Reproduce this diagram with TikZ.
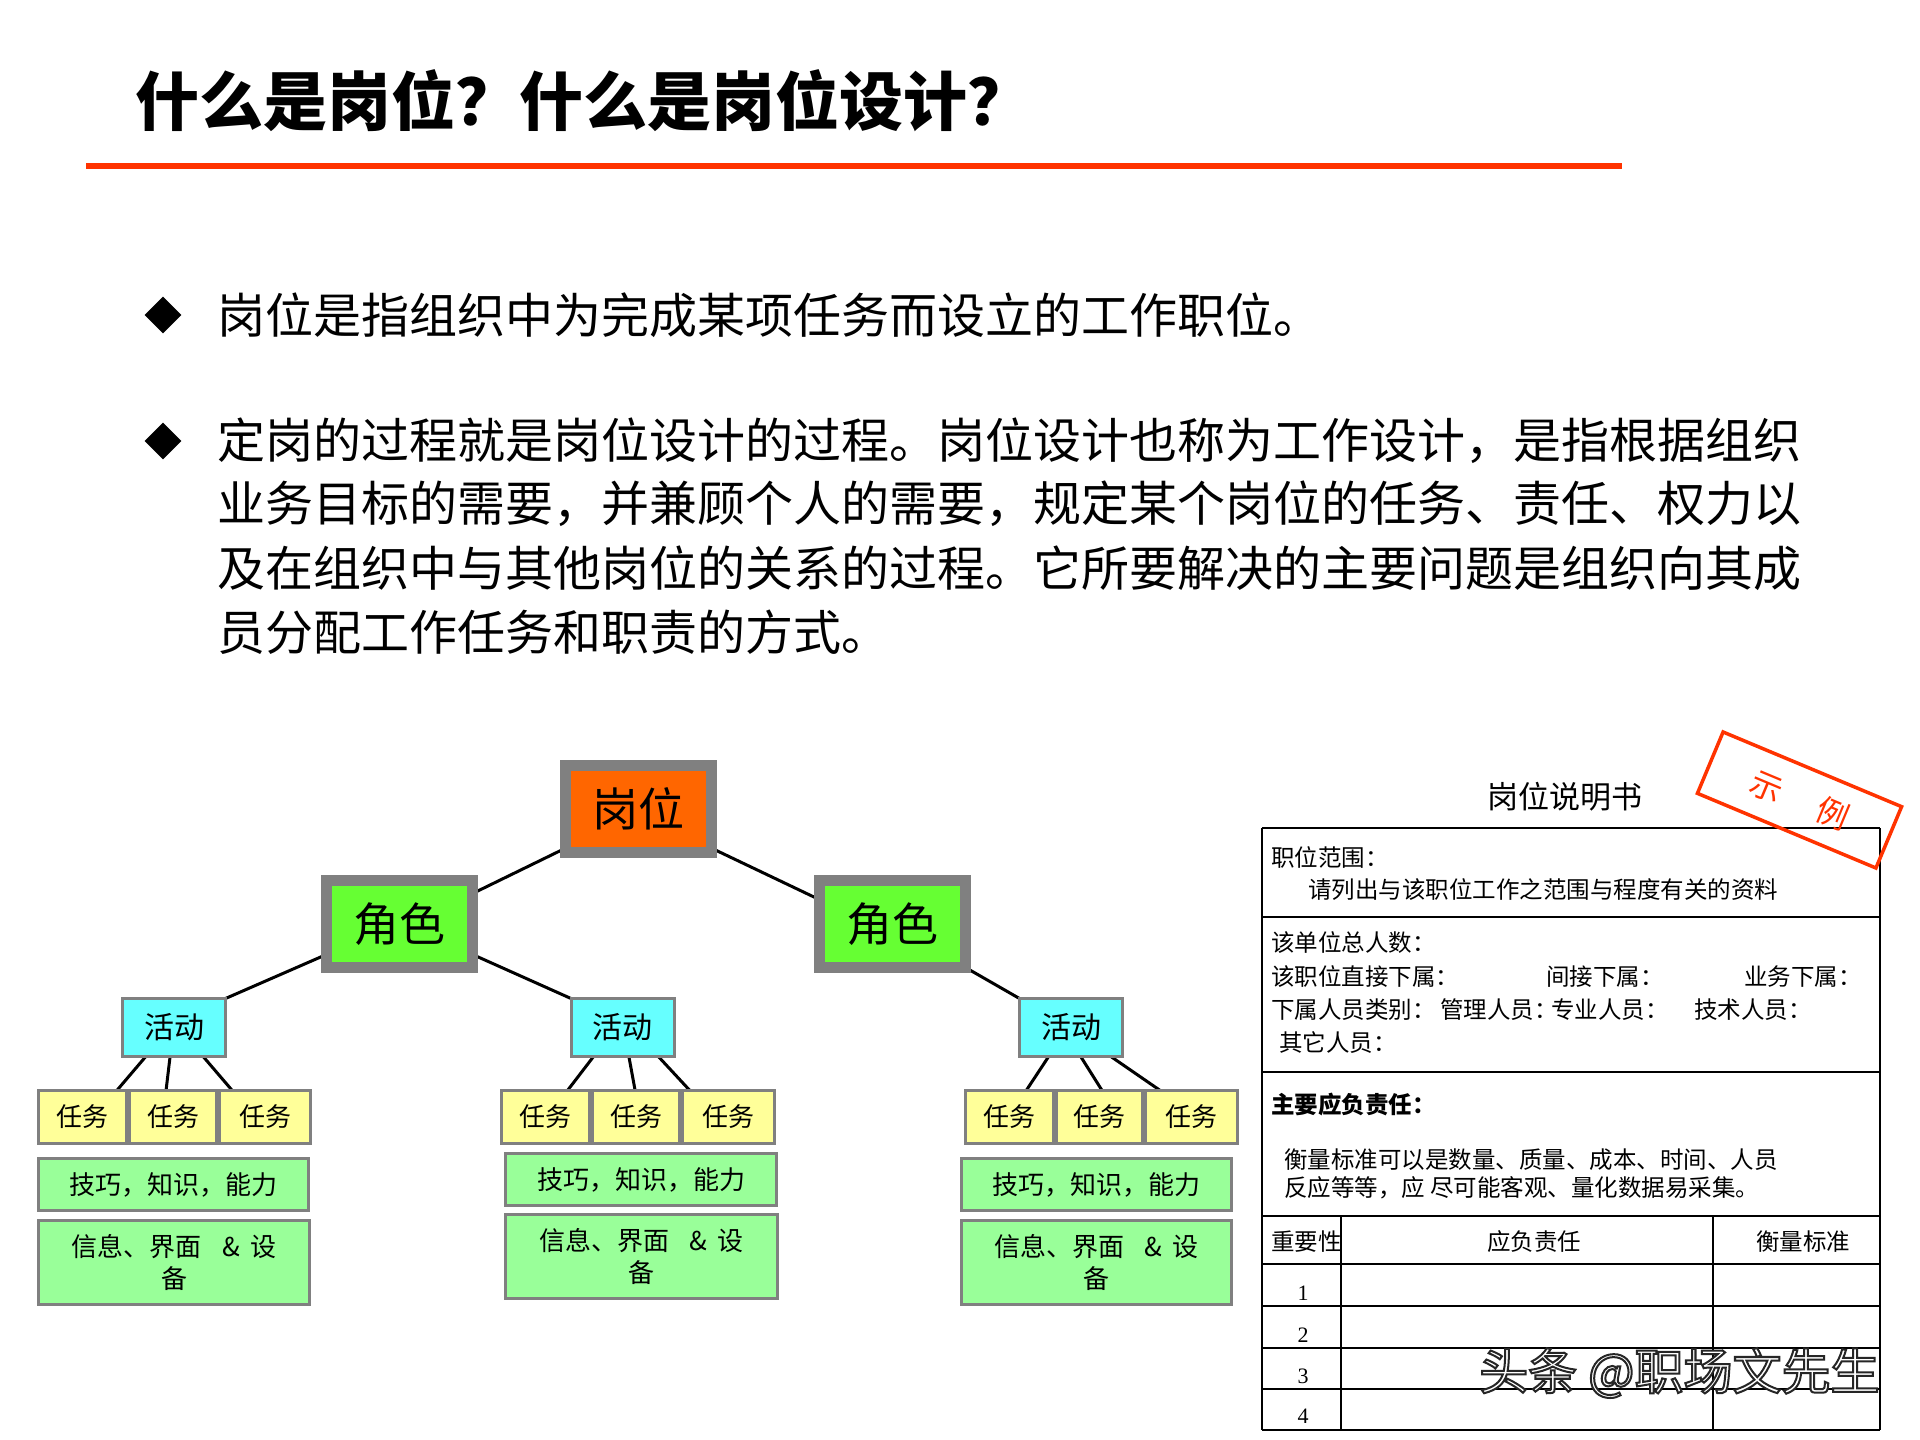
\documentclass[tikz,border=0pt]{standalone}
\usepackage{fontspec}
\setmainfont{Noto Sans CJK SC}
\newfontfamily\serifnum{Liberation Serif}
\usetikzlibrary{shapes.geometric,calc}
\pgfdeclarelayer{back}
\pgfdeclarelayer{bg}
\pgfsetlayers{back,bg,main}
\definecolor{stampred}{HTML}{FF3300}
\definecolor{boxgray}{HTML}{808080}
\definecolor{orangebox}{HTML}{FF6600}
\definecolor{limebox}{HTML}{66FF33}
\definecolor{cyanbox}{HTML}{66FFFF}
\definecolor{yellowbox}{HTML}{FFFF99}
\definecolor{lgreen}{HTML}{99FF99}
\newcommand\fsz[2]{\fontsize{#1}{#2}\selectfont}
\begin{document}
\begin{tikzpicture}[x=1pt,y=-1pt,
  bigbox/.style={draw=boxgray, line width=11pt, minimum width=146pt, minimum height=87pt, inner sep=0pt, outer sep=0pt, font=\fsz{46}{55}},
  smallbox/.style={draw=boxgray, line width=3pt, inner sep=0pt, outer sep=0pt},
  act/.style={smallbox, fill=cyanbox, minimum width=103pt, minimum height=58pt, font=\fsz{30}{36}},
  task/.style={smallbox, fill=yellowbox, minimum height=53pt, font=\fsz{26}{31}},
  skill/.style={smallbox, fill=lgreen, minimum width=270pt, minimum height=52pt, font=\fsz{26}{31}},
  info/.style={smallbox, fill=lgreen, minimum width=270pt, minimum height=84pt, align=center, font=\fsz{26}{32}},
  conn/.style={line width=3pt, black},
  body/.style={anchor=west, font=\fsz{48}{58}},
  tline/.style={line width=2.6pt, black},
  ttext/.style={anchor=west, font=\fsz{23.5}{28}, inner sep=0pt},
  tnum/.style={anchor=base, font=\serifnum\fsz{22}{26}, inner sep=0pt},
  wmk/.style={anchor=west, font=\fsz{49}{58}, inner sep=0pt}
]
\useasboundingbox (0,0) rectangle (1920,1440);
\begin{pgfonlayer}{back}
\fill[white] (0,0) rectangle (1920,1440);
\end{pgfonlayer}

% title
\node[anchor=west, font=\fsz{64}{76}\bfseries, inner sep=0pt] (title) at (135,101) {什么是岗位？什么是岗位设计？};
\draw[stampred, line width=6pt] (86,166) -- (1622,166);

% bullets
\node[diamond, fill=black, minimum width=37pt, minimum height=37pt, inner sep=0pt] (b1) at (163,315) {};
\node[diamond, fill=black, minimum width=37pt, minimum height=37pt, inner sep=0pt] (b2) at (163,441) {};
\node[body] (p1) at (214,315) {岗位是指组织中为完成某项任务而设立的工作职位。};
\node[body] (p2) at (214,441) {定岗的过程就是岗位设计的过程。岗位设计也称为工作设计，是指根据组织};
\node[body] (p3) at (214,504) {业务目标的需要，并兼顾个人的需要，规定某个岗位的任务、责任、权力以};
\node[body] (p4) at (214,568) {及在组织中与其他岗位的关系的过程。它所要解决的主要问题是组织向其成};
\node[body] (p5) at (214,632) {员分配工作任务和职责的方式。};

% tree
\node[bigbox, fill=orangebox] (gw) at (638.5,809) {岗位};
\node[bigbox, fill=limebox] (jsL) at (399.5,924) {角色};
\node[bigbox, fill=limebox] (jsR) at (892.5,924) {角色};

\node[act] (hdL) at (174,1027.5) {活动};
\node[act] (hdM) at (622.5,1027.5) {活动};
\node[act] (hdR) at (1071,1027.5) {活动};

\node[task, minimum width=88pt] (tL1) at (82.5,1117) {任务};
\node[task, minimum width=87pt] (tL2) at (173,1117) {任务};
\node[task, minimum width=91pt] (tL3) at (265,1117) {任务};
\node[task, minimum width=88pt] (tM1) at (545.5,1117) {任务};
\node[task, minimum width=87pt] (tM2) at (636,1117) {任务};
\node[task, minimum width=92pt] (tM3) at (728.5,1117) {任务};
\node[task, minimum width=88pt] (tR1) at (1009.5,1117) {任务};
\node[task, minimum width=86pt] (tR2) at (1099.5,1117) {任务};
\node[task, minimum width=92pt] (tR3) at (1191.5,1117) {任务};

\node[skill] (skL) at (173.5,1184.5) {技巧，知识，能力};
\node[skill, minimum width=271pt] (skM) at (641,1179.5) {技巧，知识，能力};
\node[skill] (skR) at (1096.5,1184.5) {技巧，知识，能力};

\node[info, minimum width=271pt] (inL) at (174,1262.5) {信息、界面\hspace{0.8em}\&\hspace{0.4em}设\\备};
\node[info, minimum width=272pt] (inM) at (641.5,1256.5) {信息、界面\hspace{0.8em}\&\hspace{0.4em}设\\备};
\node[info] (inR) at (1096.5,1262.5) {信息、界面\hspace{0.8em}\&\hspace{0.4em}设\\备};

\begin{pgfonlayer}{bg}
\draw[conn] ($(gw.north west)!0.95!(gw.south west)$) -- ($(jsL.north east)!0.15!(jsL.south east)$);
\draw[conn] ($(gw.north east)!0.95!(gw.south east)$) -- ($(jsR.north west)!0.22!(jsR.south west)$);
\draw[conn] ($(jsL.north west)!0.85!(jsL.south west)$) -- (hdL.north east);
\draw[conn] ($(jsL.north east)!0.85!(jsL.south east)$) -- (hdM.north west);
\draw[conn] (jsR.south east) -- (hdR.north west);
% activity to tasks
\draw[conn] ($(hdL.south west)!0.226!(hdL.south east)$) -- ($(tL1.north west)!0.89!(tL1.north east)$);
\draw[conn] ($(hdL.south west)!0.462!(hdL.south east)$) -- ($(tL2.north west)!0.42!(tL2.north east)$);
\draw[conn] ($(hdL.south west)!0.783!(hdL.south east)$) -- ($(tL3.north west)!0.14!(tL3.north east)$);
\draw[conn] ($(hdM.south west)!0.219!(hdM.south east)$) -- ($(tM1.north west)!0.75!(tM1.north east)$);
\draw[conn] ($(hdM.south west)!0.562!(hdM.south east)$) -- ($(tM2.north west)!0.49!(tM2.north east)$);
\draw[conn] ($(hdM.south west)!0.848!(hdM.south east)$) -- ($(tM3.north west)!0.08!(tM3.north east)$);
\draw[conn] ($(hdR.south west)!0.283!(hdR.south east)$) -- ($(tR1.north west)!0.69!(tR1.north east)$);
\draw[conn] ($(hdR.south west)!0.594!(hdR.south east)$) -- ($(tR2.north west)!0.53!(tR2.north east)$);
\draw[conn] ($(hdR.south west)!0.887!(hdR.south east)$) -- ($(tR3.north west)!0.16!(tR3.north east)$);
\end{pgfonlayer}

% job description table
\node[font=\fsz{31}{37}, inner sep=0pt] (jdtitle) at (1565,797) {岗位说明书};
\draw[tline] (1262,828) -- (1880,828);
\draw[tline] (1262,828) -- (1262,1430);
\draw[tline] (1880,828) -- (1880,1430);
\foreach \yy in {917,1072,1216,1264,1306,1348,1389,1430}
  \draw[tline] (1262,\yy) -- (1880,\yy);
\draw[tline] (1341,1216) -- (1341,1430);
\draw[tline] (1713,1216) -- (1713,1430);

\node[ttext] (r1) at (1271,857) {职位范围：};
\node[ttext] (r2) at (1308,890) {请列出与该职位工作之范围与程度有关的资料};
\node[ttext] (r3) at (1271,943) {该单位总人数：};
\node[ttext] (r4a) at (1271,977) {该职位直接下属：};
\node[ttext] (r4b) at (1546,977) {间接下属：};
\node[ttext] (r4c) at (1744,977) {业务下属：};
\node[ttext] (r5a) at (1271,1010) {下属人员类别：};
\node[ttext] (r5b) at (1440,1010) {管理人员：};
\node[ttext] (r5c) at (1551,1010) {专业人员：};
\node[ttext] (r5d) at (1694,1010) {技术人员：};
\node[ttext] (r6) at (1279,1043) {其它人员：};
\node[ttext, font=\fsz{23.5}{28}\bfseries] (r7) at (1271,1105) {主要应负责任：};
\node[ttext] (r8) at (1284,1160) {衡量标准可以是数量、质量、成本、时间、人员};
\node[ttext] (r9) at (1284,1188) {反应等等，应 尽可能客观、量化数据易采集。};
\node[ttext] (h1) at (1271,1242) {重要性};
\node[ttext, anchor=center] (h2) at (1534,1242) {应负责任};
\node[ttext, anchor=center] (h3) at (1803,1242) {衡量标准};
\node[tnum] (n1) at (1303,1300) {1};
\node[tnum] (n2) at (1303,1342) {2};
\node[tnum] (n3) at (1303,1383) {3};
\node[tnum] (n4) at (1303,1423) {4};

% stamp
\node[draw=stampred, line width=3.5pt, minimum width=193.5pt, minimum height=66.5pt, rotate=-22.7, inner sep=0pt] (stamp) at (1799.5,800) {};
\node[text=stampred, rotate=-22.7, font=\fsz{32}{38}, inner sep=0pt] (stampt) at (1800,800) {示\hspace{39pt}例};

% watermark
\node[wmk, text=white] (wm) at (1479,1373) {\special{pdf:literal direct 2 Tr 2 w 0.15 0.15 0.15 RG}头条 @职场文先生\special{pdf:literal direct 0 Tr}};
\end{tikzpicture}
\end{document}
